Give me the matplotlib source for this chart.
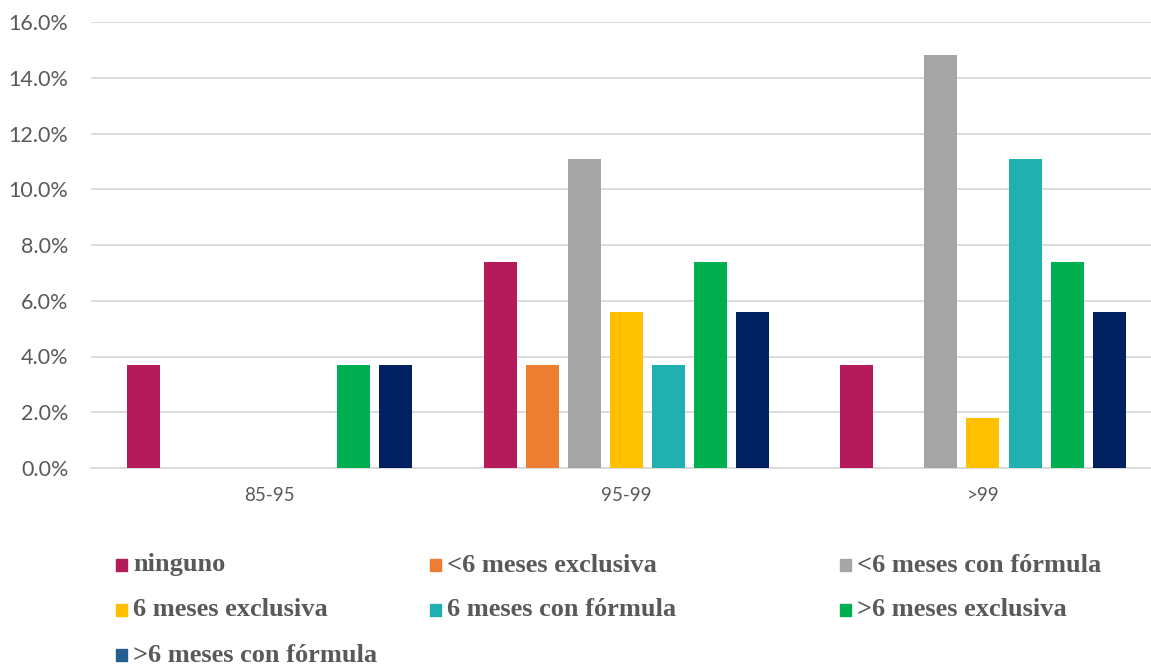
import numpy as np
import matplotlib.pyplot as plt
from matplotlib.patches import Rectangle
from matplotlib.ticker import FuncFormatter

# datos (% de casos)
categorias = ['85-95', '95-99', '>99']
series = ['ninguno', '<6 meses exclusiva', '<6 meses con fórmula',
          '6 meses exclusiva', '6 meses con fórmula', '>6 meses exclusiva',
          '>6 meses con fórmula']
ninguno = [3.7, 7.4, 3.7]
menos6_excl = [0.0, 3.7, 0.0]
menos6_form = [0.0, 11.1, 14.8]
seis_excl = [0.0, 5.6, 1.8]
seis_form = [0.0, 3.7, 11.1]
mas6_excl = [3.7, 7.4, 7.4]
mas6_form = [3.7, 5.6, 5.6]
valores = [ninguno, menos6_excl, menos6_form, seis_excl, seis_form, mas6_excl, mas6_form]

colores = ['#B51A5B', '#ED7D31', '#A5A5A5', '#FFC000', '#20B0B0', '#00B050', '#002060']
colores_leyenda = colores[:-1] + ['#255E91']

W, H = 1151, 666
fig = plt.figure(figsize=(W / 100, H / 100), dpi=100)
ax = fig.add_axes([90.5 / W, (H - 468) / H, (W - 90.5) / W, 446 / H])

paso = 42 / 357
ancho = 33 / 357
x = np.arange(len(categorias))
for i, (vals, col) in enumerate(zip(valores, colores)):
    ax.bar(x + (i - 3) * paso, vals, width=ancho, color=col, zorder=3)

ax.set_ylim(0, 16)
ax.set_xlim(-0.5, -0.5 + (W - 90.5) / 357)
ax.set_yticks(np.arange(0, 16.1, 2))
ax.yaxis.set_major_formatter(FuncFormatter(lambda v, p: f'{v:.1f}%'))
ax.set_xticks(x)
ax.set_xticklabels(categorias)
ax.grid(axis='y', color='#D9D9D9', linewidth=1.3, zorder=0)
for s in ['top', 'right', 'left']:
    ax.spines[s].set_visible(False)
ax.spines['bottom'].set_color('#D9D9D9')
ax.spines['bottom'].set_linewidth(1.3)
ax.tick_params(length=0, labelcolor='#595959')
ax.tick_params(axis='x', pad=14, labelsize=13.5)
ax.tick_params(axis='y', pad=16, labelsize=15.5)
for lab in ax.get_xticklabels() + ax.get_yticklabels():
    lab.set_family('Lato')

# leyenda manual (3 columnas)
pos_x = [116, 430, 840]
pos_y = [565, 610, 655]
for k, (nombre, col) in enumerate(zip(series, colores_leyenda)):
    px = pos_x[k % 3]
    py = pos_y[k // 3]
    fig.patches.append(Rectangle((px / W, (H - py - 6) / H), 11 / W, 12 / H,
                                 color=col, transform=fig.transFigure))
    fig.text((px + 17) / W, (H - py) / H, nombre, family='Liberation Serif',
             weight='bold', fontsize=19, color='#595959', va='center')

fig.savefig('out.png', dpi=100)
